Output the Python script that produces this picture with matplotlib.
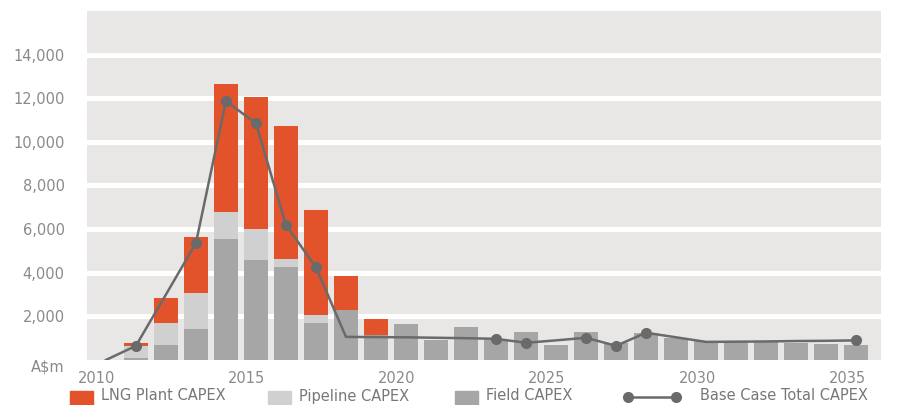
import numpy as np
import matplotlib.pyplot as plt
import matplotlib.transforms as mtransforms
from matplotlib.patches import Rectangle
from matplotlib.lines import Line2D

# data (A$m)
years = list(range(2011, 2036))
field_capex = [100, 690, 1430, 5540, 4570, 4250, 1710, 2310, 1150, 1660, 920, 1520, 900,
               1290, 690, 1290, 790, 1250, 1020, 880, 830, 830, 790, 740, 690]
pipeline_capex = [550, 1020, 1660, 1250, 1430, 370, 370, 0, 0, 0, 0, 0, 0,
                  0, 0, 0, 0, 0, 0, 0, 0, 0, 0, 0, 0]
lng_capex = [150, 1150, 2540, 5870, 6050, 6100, 4800, 1520, 740, 0, 0, 0, 0,
             0, 0, 0, 0, 0, 0, 0, 0, 0, 0, 0, 0]

total_years = list(range(2010, 2036))
total_capex = [0, 650, 3000, 5360, 11870, 10850, 6190, 4250, 1060, 1050, 1040, 1020, 1000,
               970, 790, 900, 1020, 650, 1250, 1040, 830, 840, 850, 870, 880, 900]
marker_years = [2011, 2013, 2014, 2015, 2016, 2017, 2023, 2024, 2026, 2027, 2028, 2035]

yticks = [2000, 4000, 6000, 8000, 10000, 12000, 14000]
xticks = [2010, 2015, 2020, 2025, 2030, 2035]

c_lng = '#e2532b'
c_pipe = '#d0d0d0'
c_field = '#a6a6a6'
c_line = '#6a6a6a'
c_bg = '#e8e7e5'
c_text = '#8a8a8a'

plt.rcParams['font.family'] = ['DejaVu Sans']

fig = plt.figure(figsize=(8.98, 4.05), dpi=100)
ax = fig.add_axes([87/898, 1 - 360/405, (881-87)/898, (360-11)/405])
ax.set_facecolor(c_bg)

f = np.array(field_capex)
p = np.array(pipeline_capex)
l = np.array(lng_capex)
w = 0.82
ax.bar(years, f, width=w, color=c_field, zorder=2)
ax.bar(years, p, width=w, bottom=f, color=c_pipe, zorder=2)
ax.bar(years, l, width=w, bottom=f + p, color=c_lng, zorder=2)

marks = [total_years.index(y) for y in marker_years]
ax.plot(total_years, total_capex, color=c_line, lw=1.8, marker='o', markersize=7,
        markevery=marks, zorder=3)

for yv in yticks:
    ax.axhline(yv, color='white', lw=3.6, zorder=1)

ax.set_xlim(2009.37, 2035.83)
ax.set_ylim(0, 16000)
ax.set_yticks(yticks)
ax.set_yticklabels(['{:,}'.format(v) for v in yticks])
ax.set_xticks(xticks)
ax.tick_params(axis='both', length=0, labelsize=10.5, labelcolor=c_text)
ax.tick_params(axis='y', pad=16)
ax.tick_params(axis='x', pad=8)
shift = mtransforms.ScaledTranslation(-9/100, 0, fig.dpi_scale_trans)
for lab in ax.get_xticklabels():
    lab.set_transform(lab.get_transform() + shift)
for s in ax.spines.values():
    s.set_visible(False)

ax.annotate('A$m', xy=(0, 0), xycoords='axes fraction', xytext=(-22, -7),
            textcoords='offset pixels', ha='right', va='center',
            fontsize=10.5, color=c_text)

# legend, laid out by hand along the bottom edge
def fy(py):
    return 1 - py / 405

leg_col = '#777777'
for x0, col, txt in [(70, c_lng, 'LNG Plant CAPEX'), (268, c_pipe, 'Pipeline CAPEX'),
                     (455, c_field, 'Field CAPEX')]:
    fig.add_artist(Rectangle((x0/898, 0), 23/898, (405-391)/405, color=col,
                             transform=fig.transFigure))
    fig.text((x0 + 31)/898, fy(396), txt, fontsize=10.5, color=leg_col, va='center')
fig.add_artist(Line2D([628/898, 676/898], [fy(397), fy(397)], color=c_line, lw=1.8,
                      marker='o', markersize=7, transform=fig.transFigure))
fig.text(700/898, fy(396), 'Base Case Total CAPEX', fontsize=10.5, color=leg_col, va='center')

fig.savefig('out.png', dpi=100, facecolor='white')
